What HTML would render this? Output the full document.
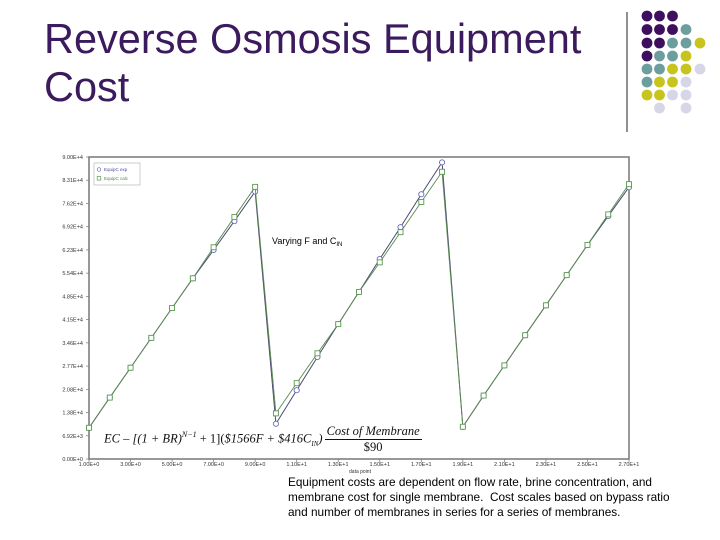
<!DOCTYPE html>
<html><head><meta charset="utf-8"><style>
body{margin:0;width:720px;height:540px;background:#fff;position:relative;overflow:hidden;font-family:"Liberation Sans",sans-serif}
.t{position:absolute;left:44px;top:15px;font-size:41.5px;line-height:48px;color:#3b1a5e}
.desc{position:absolute;left:288px;top:475px;width:400px;font-size:11.8px;line-height:15px;color:#000}
.eq{position:absolute;left:104px;top:424px;font-family:"Liberation Serif",serif;font-style:italic;font-size:12.5px;color:#111;white-space:nowrap}
</style></head><body>
<div class="t">Reverse Osmosis Equipment<br>Cost</div>
<svg width="720" height="540" style="position:absolute;left:0;top:0">
<line x1="627" y1="12" x2="627" y2="132" stroke="#222" stroke-width="1"/>
<g id="dots"></g>
<g id="chart"></g>
</svg>
<div class="eq">EC – [(1 + BR)<sup style="font-size:8px">N−1</sup> <span style="font-style:normal">+ 1](</span>$1566F + $416C<sub style="font-size:7px">IN</sub>)<span style="display:inline-block;vertical-align:middle;text-align:center;margin-left:2px"><span style="display:block;border-bottom:1px solid #111;padding:0 2px">Cost of Membrane</span><span style="display:block;font-style:normal">$90</span></span></div>
<div class="desc">Equipment costs are dependent on flow rate, brine concentration, and membrane cost for single membrane.&nbsp; Cost scales based on bypass ratio and number of membranes in series for a series of membranes.</div>
<script>
const points=[1,2,3,4,5,6,7,8,9,10,11,12,13,14,15,16,17,18,19,20,21,22,23,24,25,26,27];
const expVals=[9300,18300,27200,36100,45000,53850,62300,70900,79700,10500,20500,30400,40200,49800,59600,69100,78900,88400,9600,18900,27900,36900,45800,54800,63800,72400,81000];
const calcVals=[9300,18300,27200,36100,45000,53850,63100,72100,81100,13600,22600,31500,40200,49800,58600,67600,76600,85600,9600,18900,27900,36900,45800,54800,63800,72900,81900];
const yTicks=["0.00E+0","6.92E+3","1.38E+4","2.08E+4","2.77E+4","3.46E+4","4.15E+4","4.85E+4","5.54E+4","6.23E+4","6.92E+4","7.62E+4","8.31E+4","9.00E+4"];
const xTicks=[1,3,5,7,9,11,13,15,17,19,21,23,25,27];
const xTickLabels=["1.00E+0","3.00E+0","5.00E+0","7.00E+0","9.00E+0","1.10E+1","1.30E+1","1.50E+1","1.70E+1","1.90E+1","2.10E+1","2.30E+1","2.50E+1","2.70E+1"];
const NS="http://www.w3.org/2000/svg";
const L=89,R=629,T=157,B=459;
const xs=v=>L+(v-1)/26*(R-L);
const ys=v=>B-v/90000*(B-T);
function mk(p,tag,a){const e=document.createElementNS(NS,tag);for(const k in a)e.setAttribute(k,a[k]);p.appendChild(e);return e;}
const g=document.getElementById('chart');
const fr=mk(g,'rect',{x:L,y:T,width:R-L,height:B-T,fill:'none',stroke:'#777','stroke-width':1.5});


yTicks.forEach((s,i)=>{const y=B-i*(B-T)/13;
 const t=mk(g,'text',{x:83,y:y+2,'font-size':5.5,'text-anchor':'end',fill:'#333'});t.textContent=s;
 
 
 mk(g,'line',{x1:L-3,x2:L,y1:y,y2:y,stroke:'#777','stroke-width':0.7});});
xTicks.forEach((v,i)=>{const x=xs(v);
 const t=mk(g,'text',{x:x,y:466,'font-size':5.5,'text-anchor':'middle',fill:'#333'});t.textContent=xTickLabels[i];
 
 
 mk(g,'line',{x1:x,x2:x,y1:B,y2:B+3,stroke:'#777','stroke-width':0.7});});
const xt=mk(g,'text',{x:360,y:473,'font-size':5,'text-anchor':'middle',fill:'#333'});xt.textContent='data point';


function series(vals,col,lw,shape,name){
 const ln=mk(g,'polyline',{points:vals.map((v,i)=>xs(points[i])+','+ys(v)).join(' '),fill:'none',stroke:col,'stroke-width':lw});
 
 
 vals.forEach((v,i)=>{const x=xs(points[i]),y=ys(v);let m;
  if(shape==='c')m=mk(g,'circle',{cx:x,cy:y,r:2.6,fill:'#fff',stroke:'#6a6ab8','stroke-width':0.9});
  else m=mk(g,'rect',{x:x-2.5,y:y-2.5,width:5,height:5,fill:'#fff',stroke:'#5a9a50','stroke-width':0.9});
  
  });
}
series(expVals,'#4a4a70',1,'c','equipc-exp');
series(calcVals,'#5a8a50',0.9,'s','equipc-calc');
const lg=mk(g,'rect',{x:94,y:163,width:46,height:22,fill:'#fff',stroke:'#aaa','stroke-width':0.6});


mk(g,'circle',{cx:99,cy:169.5,r:1.8,fill:'none',stroke:'#6a6ab8','stroke-width':0.7});
mk(g,'rect',{x:97.2,y:176.5,width:3.6,height:3.6,fill:'none',stroke:'#5a9a50','stroke-width':0.7});
let t1=mk(g,'text',{x:104,y:171,'font-size':4.5,fill:'#4a4aa0'});t1.textContent='EquipC exp';


let t2=mk(g,'text',{x:104,y:180,'font-size':4.5,fill:'#4a8a40'});t2.textContent='EquipC calc';


let an=mk(g,'text',{x:272,y:244,'font-size':9,fill:'#000'});an.innerHTML='Varying F and C<tspan font-size="6" dy="2">IN</tspan>';


const P='#3d0f5e',Tl='#6d9e9e',Y='#c8c41e',Lv='#d6d6e8';
const rows=[[P,P,P],[P,P,P,Tl],[P,P,Tl,Tl,Y],[P,Tl,Tl,Y],[Tl,Tl,Y,Y,Lv],[Tl,Y,Y,Lv],[Y,Y,Lv,Lv],[null,Lv,null,Lv]];
const cx=[647,659.5,672.5,686,700],cy=[16,29.5,43,56,69,82,95,108];
const dg=document.getElementById('dots');
rows.forEach((r,i)=>r.forEach((c,j)=>{if(c)mk(dg,'circle',{cx:cx[j],cy:cy[i],r:5.4,fill:c});}));
</script>
</body></html>
